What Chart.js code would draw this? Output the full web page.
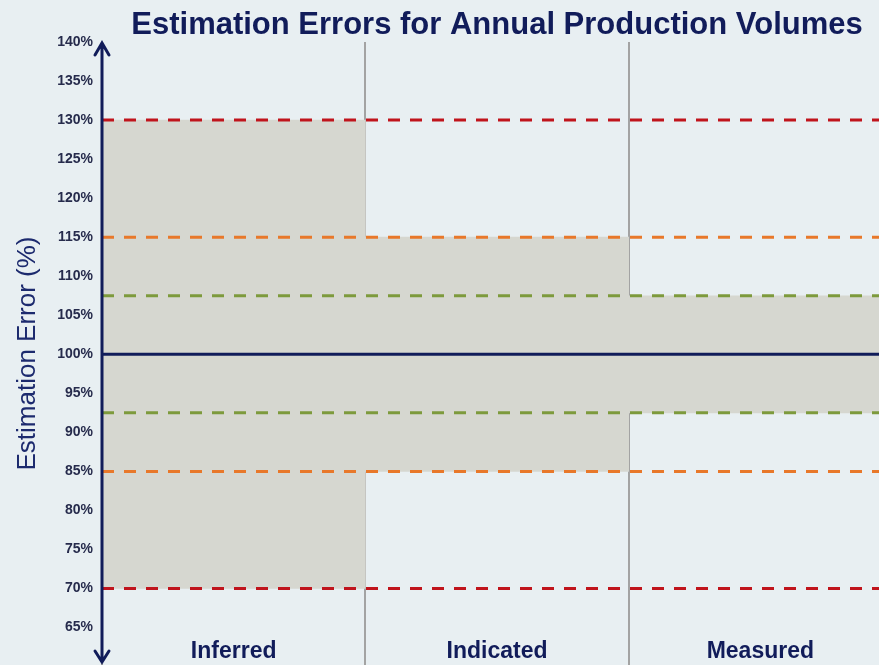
<!DOCTYPE html>
<html>
<head>
<meta charset="utf-8">
<script src="https://cdn.jsdelivr.net/npm/chart.js@4"></script>
<style>
  html, body { margin: 0; padding: 0; background: #e8eff2; overflow: hidden; }
  #wrap { width: 892px; height: 665px; }
</style>
</head>
<body>
<div id="wrap"><canvas id="chart" width="892" height="665"></canvas></div>
<script>
// Estimation error ranges per resource class
const categories = ['Inferred', 'Indicated', 'Measured'];
const bandLow = [70, 85, 92.5];
const bandHigh = [130, 115, 107.5];

const redLevels = [130, 70];
const orangeLevels = [115, 85];
const greenLevels = [107.5, 92.5];
const baseLevel = 100;

const yMin = 60.2, yMax = 140, yStep = 5;

const NAVY = '#111c5a';
const TXT = '#262b4c';
const FONT = '"Liberation Sans", Arial, sans-serif';

function levelLine(y, color, dashed) {
  return {
    type: 'line',
    xAxisID: 'xl',
    data: [{ x: 0, y }, { x: categories.length, y }],
    borderColor: color,
    borderWidth: 3,
    borderDash: dashed ? [12, 10] : [],
    pointRadius: 0,
    fill: false,
  };
}

const datasets = [
  {
    type: 'bar',
    xAxisID: 'x',
    grouped: false,
    data: categories.map((c, i) => [bandLow[i], bandHigh[i]]),
    backgroundColor: '#d6d7d0',
    borderWidth: 0,
    categoryPercentage: 1,
    barPercentage: 1,
    order: 10,
  },
  ...greenLevels.map(v => levelLine(v, '#7d9a3c', true)),
  ...orangeLevels.map(v => levelLine(v, '#e8782a', true)),
  ...redLevels.map(v => levelLine(v, '#c0141c', true)),
  levelLine(baseLevel, NAVY, false),
];

// y axis arrow, title and category labels
const decor = {
  id: 'decor',
  afterDatasetsDraw(chart) {
    const { ctx, chartArea: a } = chart;
    const x = a.left;
    ctx.save();
    ctx.strokeStyle = NAVY;
    ctx.lineWidth = 3;
    ctx.lineCap = 'round';
    ctx.beginPath();
    ctx.moveTo(x, 43); ctx.lineTo(x, 662);
    ctx.moveTo(x - 7, 55); ctx.lineTo(x, 43); ctx.lineTo(x + 7, 55);
    ctx.moveTo(x - 7, 651); ctx.lineTo(x, 662); ctx.lineTo(x + 7, 651);
    ctx.stroke();
    ctx.restore();
  },
  afterDraw(chart) {
    const { ctx, chartArea: a } = chart;
    const xs = chart.scales.x;
    ctx.save();
    ctx.fillStyle = NAVY;
    ctx.textAlign = 'center';
    ctx.textBaseline = 'alphabetic';
    ctx.font = 'bold 31px ' + FONT;
    ctx.fillText('Estimation Errors for Annual Production Volumes', (a.left + a.right) / 2, 34);
    ctx.font = 'bold 23px ' + FONT;
    categories.forEach((c, i) => ctx.fillText(c, xs.getPixelForValue(i), 658));
    ctx.restore();
  }
};

new Chart(document.getElementById('chart'), {
  type: 'bar',
  data: { labels: categories, datasets },
  options: {
    responsive: false,
    animation: false,
    layout: { padding: { top: 42, right: 0, bottom: 0, left: 0 } },
    plugins: { legend: { display: false }, tooltip: { enabled: false } },
    scales: {
      x: {
        type: 'category',
        z: 1,
        ticks: { display: false },
        grid: { color: '#a3a3a3', lineWidth: 2, drawTicks: false, offset: true },
        border: { display: false },
        afterFit(s) { s.height = 0; },
      },
      xl: {
        type: 'linear',
        display: false,
        offset: false,
        min: 0,
        max: categories.length,
        grid: { display: false, drawTicks: false },
        afterFit(s) { s.height = 0; },
      },
      y: {
        min: yMin,
        max: yMax,
        ticks: {
          stepSize: yStep,
          includeBounds: false,
          padding: 9,
          color: TXT,
          font: { family: FONT, size: 14, weight: 'bold' },
          callback: v => (v % 5 === 0 ? v + '%' : ''),
        },
        grid: { display: false, drawTicks: false },
        border: { display: false },
        title: {
          display: true,
          text: 'Estimation Error (%)',
          color: '#1c2a6e',
          font: { family: FONT, size: 26 },
          padding: { top: 12, bottom: 0 },
        },
        afterFit(s) {
          s.width = 102;
          s.paddingTop = 0;
          s.paddingBottom = 0;
        },
      },
    },
  },
  plugins: [decor],
});
</script>
</body>
</html>
